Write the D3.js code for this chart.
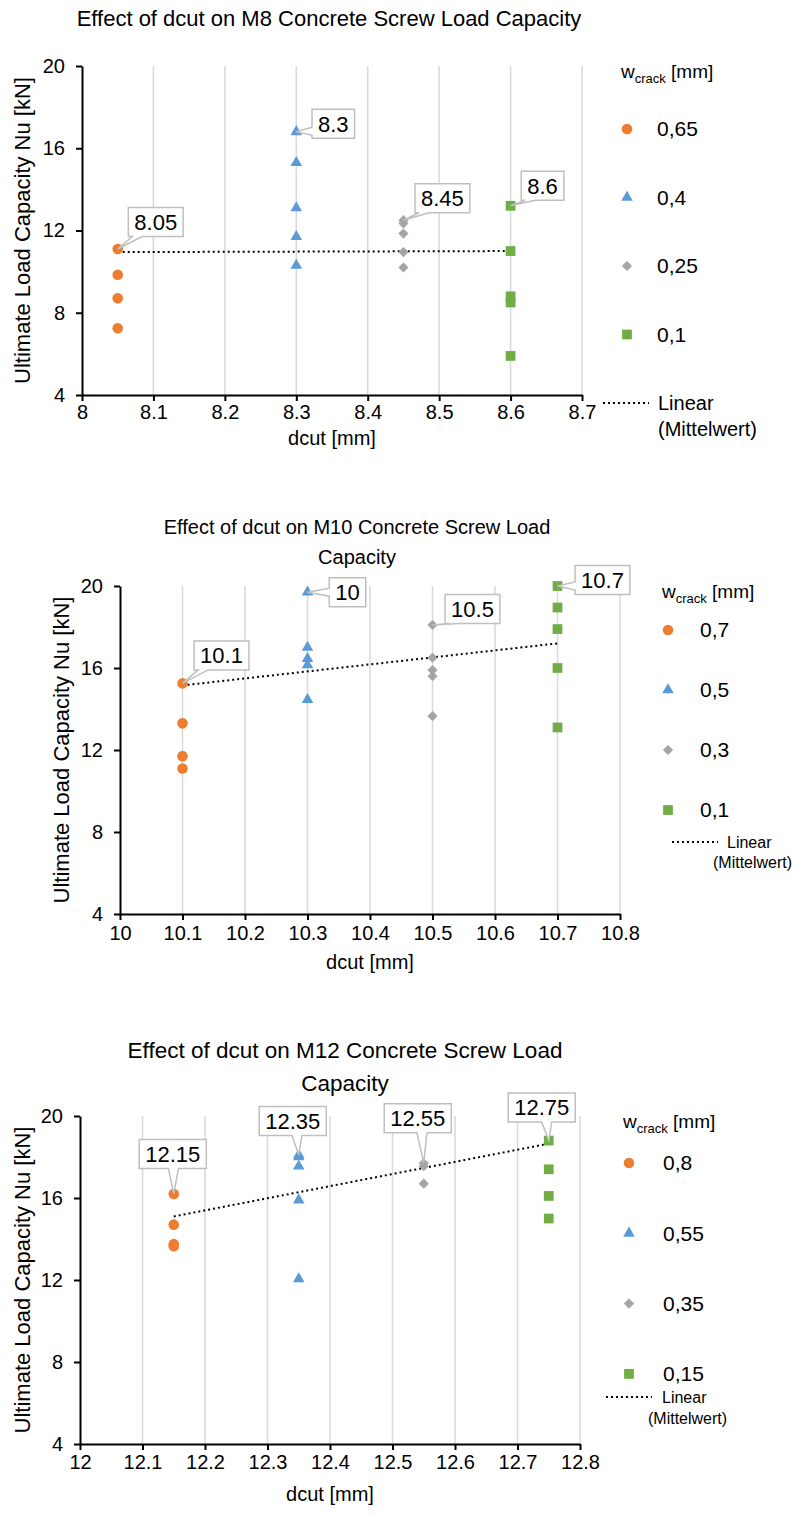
<!DOCTYPE html>
<html>
<head>
<meta charset="utf-8">
<script src="https://cdn.jsdelivr.net/npm/d3@7"></script>
<style>
  body { margin: 0; background: #fff; }
  text { font-family: "Liberation Sans", Arial, sans-serif; fill: #000; }
</style>
</head>
<body>
<div class="charts"></div>
<script>
// shared values
const yTicks = [4, 8, 12, 16, 20]
const seriesColours = ["#ed7d31", "#5b9bd5", "#a5a5a5", "#70ad47"]

// M8
const m8Dcut = [8.05, 8.3, 8.45, 8.6]
const m8Crack = ["0,65", "0,4", "0,25", "0,1"]
const m8Loads = [
  [11.1, 9.85, 8.7, 7.25],
  [16.8, 15.3, 13.1, 11.7, 10.3],
  [12.5, 12.35, 11.85, 10.95, 10.2],
  [13.2, 11.0, 8.8, 8.5, 5.9]
]
const m8Trend = [10.95, 11.0]
const m8XTicks = [8, 8.1, 8.2, 8.3, 8.4, 8.5, 8.6, 8.7]

// M10
const m10Dcut = [10.1, 10.3, 10.5, 10.7]
const m10Labels = ["10.1", "10", "10.5", "10.7"]
const m10Crack = ["0,7", "0,5", "0,3", "0,1"]
const m10Loads = [
  [15.25, 13.3, 11.7, 11.1],
  [19.7, 17.0, 16.45, 16.15, 14.45],
  [18.1, 16.5, 15.9, 15.6, 13.65],
  [20.0, 18.95, 17.9, 16.0, 13.1]
]
const m10Trend = [15.15, 17.2]
const m10XTicks = [10, 10.1, 10.2, 10.3, 10.4, 10.5, 10.6, 10.7, 10.8]

// M12
const m12Dcut = [12.15, 12.35, 12.55, 12.75]
const m12Crack = ["0,8", "0,55", "0,35", "0,15"]
const m12Loads = [
  [16.2, 14.7, 13.75, 13.65],
  [18.1, 18.0, 17.55, 15.9, 12.05],
  [17.7, 17.55, 16.7],
  [18.8, 17.4, 16.1, 15.0]
]
const m12Trend = [15.1, 18.65]
const m12XTicks = [12, 12.1, 12.2, 12.3, 12.4, 12.5, 12.6, 12.7, 12.8]

const svg = d3.select(".charts").append("svg").attr("width", 792).attr("height", 1515)

// marker shapes: circle, triangle, diamond, square
const markerShapes = [
  d3.symbol().type(d3.symbolCircle).size(88),
  d3.symbol().type(d3.symbolTriangle).size(58),
  d3.symbol().type(d3.symbolSquare).size(52),
  d3.symbol().type(d3.symbolSquare).size(95)
]
function marker(g, i, x, y) {
  g.append("path").attr("d", markerShapes[i]())
   .attr("transform", `translate(${x},${y})` + (i == 2 ? " rotate(45)" : ""))
   .attr("fill", seriesColours[i])
}

// box with a wedge pointing at (px,py)
function callout(g, px, py, cx, cy, label) {
  const c = g.append("g")
  const t = c.append("text").attr("x", cx).attr("y", cy).attr("dy", "0.35em")
             .attr("text-anchor", "middle").style("font-size", "22px").text(label)
  const w = t.node().getComputedTextLength() + 12, h = 29
  const x0 = cx - w/2, x1 = cx + w/2, y0 = cy - h/2, y1 = cy + h/2
  const clamp = (v, a, b) => Math.max(a, Math.min(b, v))
  let d
  if (py > y1) {
    const bx = clamp(px + (cx - px) * 0.3, x0 + 9, x1 - 9)
    d = `M${x0},${y0}H${x1}V${y1}H${bx+5}L${px},${py}L${bx-5},${y1}H${x0}Z`
  } else if (py < y0) {
    const bx = clamp(px, x0 + 9, x1 - 9)
    d = `M${x0},${y0}H${bx-5}L${px},${py}L${bx+5},${y0}H${x1}V${y1}H${x0}Z`
  } else if (px < x0) {
    const by = clamp(py, y0 + 7, y1 - 7)
    d = `M${x0},${y0}H${x1}V${y1}H${x0}V${by+4}L${px},${py}L${x0},${by-4}Z`
  } else {
    const by = clamp(py, y0 + 7, y1 - 7)
    d = `M${x0},${y0}H${x1}V${by-4}L${px},${py}L${x1},${by+4}V${y1}H${x0}Z`
  }
  c.insert("path", "text").attr("d", d).attr("fill", "#fff")
   .attr("stroke", "#bfbfbf").attr("stroke-width", 1.5)
}

function drawChart(cfg) {
  const x = d3.scaleLinear().domain(d3.extent(cfg.xTicks)).range([cfg.left, cfg.right])
  const y = d3.scaleLinear().domain([4, 20]).range([cfg.bottom, cfg.top])
  const g = svg.append("g")

  // title
  g.selectAll(".title").data(cfg.title).enter().append("text").attr("class", "title")
   .attr("x", cfg.titleX).attr("y", (d, i) => cfg.titleY + i * cfg.titleGap)
   .attr("text-anchor", "middle").style("font-size", cfg.titleSize + "px").text(d => d)

  // vertical gridlines
  g.selectAll(".grid").data(cfg.xTicks.slice(1)).enter().append("line").attr("class", "grid")
   .attr("x1", d => x(d)).attr("x2", d => x(d)).attr("y1", cfg.top).attr("y2", cfg.bottom)
   .attr("stroke", "#d9d9d9").attr("stroke-width", 1.5)

  // axes
  const xAxis = g.append("g").attr("transform", `translate(0,${cfg.bottom})`)
    .call(d3.axisBottom(x).tickValues(cfg.xTicks).tickSize(6).tickSizeOuter(0).tickPadding(cfg.xPad)
      .tickFormat(d => String(+d.toFixed(2))))
  const yAxis = g.append("g").attr("transform", `translate(${cfg.left},0)`)
    .call(d3.axisLeft(y).tickValues(yTicks).tickSize(6).tickSizeOuter(0).tickPadding(11))
  for (const a of [xAxis, yAxis]) {
    a.select(".domain").attr("stroke", "#000").attr("stroke-width", 2)
    a.selectAll(".tick line").attr("stroke", "#000").attr("stroke-width", 2)
    a.selectAll(".tick text").attr("fill", "#000").style("font-size", "20px")
     .style("font-family", "'Liberation Sans', Arial, sans-serif")
  }

  // axis titles
  g.append("text").attr("x", (cfg.left + cfg.right) / 2).attr("y", cfg.bottom + cfg.xTitleGap)
   .attr("text-anchor", "middle").style("font-size", "20px").text("dcut [mm]")
  g.append("text").attr("transform", `translate(${cfg.yLabelX},${(cfg.top + cfg.bottom) / 2}) rotate(-90)`)
   .attr("dy", "0.35em").attr("text-anchor", "middle").style("font-size", "22px")
   .text("Ultimate Load Capacity Nu [kN]")

  // trendline
  const first = cfg.dcut[0], last = cfg.dcut[cfg.dcut.length - 1]
  g.append("line").attr("x1", x(first)).attr("y1", y(cfg.trend[0]))
   .attr("x2", x(last)).attr("y2", y(cfg.trend[1]))
   .attr("stroke", "#000").attr("stroke-width", 2).attr("stroke-dasharray", "2,3")

  // points
  cfg.loads.forEach((vals, i) => {
    vals.forEach(v => marker(g, i, x(cfg.dcut[i]), y(v)))
  })

  // callouts on the top point of each series
  cfg.loads.forEach((vals, i) => {
    const px = x(cfg.dcut[i]), py = y(d3.max(vals))
    const o = cfg.callouts[i]
    callout(g, px, py, px + o[0], py + o[1], cfg.labels ? cfg.labels[i] : String(cfg.dcut[i]))
  })

  // legend
  const L = cfg.legend
  const head = g.append("text").attr("x", L.x).attr("y", L.headY).style("font-size", "19px")
  head.append("tspan").text("w")
  head.append("tspan").attr("dy", 5).style("font-size", "13px").text("crack")
  head.append("tspan").attr("dy", -5).text(" [mm]")
  cfg.crack.forEach((c, i) => {
    const ry = L.rowY + i * L.rowStep
    marker(g, i, L.x + 6, ry)
    g.append("text").attr("x", L.textX).attr("y", ry).attr("dy", "0.35em")
     .style("font-size", "21px").text(c)
  })
  g.append("line").attr("x1", L.lineX).attr("x2", L.lineX + L.lineLen).attr("y1", L.linY).attr("y2", L.linY)
   .attr("stroke", "#000").attr("stroke-width", 2).attr("stroke-dasharray", "2,3")
  g.append("text").attr("x", L.linearX).attr("y", L.linY).attr("dy", "0.35em")
   .style("font-size", L.linSize + "px").text("Linear")
  g.append("text").attr("x", L.mittelX).attr("y", L.linY + L.linGap).attr("dy", "0.35em")
   .style("font-size", L.linSize + "px").text("(Mittelwert)")
}

drawChart({
  title: ["Effect of dcut on M8 Concrete Screw Load Capacity"], titleX: 329, titleY: 26, titleSize: 22, titleGap: 0,
  left: 82, right: 582, top: 66, bottom: 395, yLabelX: 22, xPad: 4, xTitleGap: 50,
  xTicks: m8XTicks, dcut: m8Dcut, loads: m8Loads, crack: m8Crack, trend: m8Trend,
  callouts: [[38, -27], [37, -8], [39, -22], [32, -20]],
  legend: { x: 621, headY: 78, textX: 657, rowY: 129, rowStep: 68.5,
            lineX: 603, lineLen: 46, linY: 403, linGap: 26, linSize: 20, linearX: 658, mittelX: 658 }
})

drawChart({
  title: ["Effect of dcut on M10 Concrete Screw Load", "Capacity"], titleX: 357, titleY: 534, titleSize: 20, titleGap: 30,
  left: 120, right: 620, top: 586, bottom: 914, yLabelX: 61, xPad: 6, xTitleGap: 55,
  xTicks: m10XTicks, dcut: m10Dcut, loads: m10Loads, crack: m10Crack, trend: m10Trend, labels: m10Labels,
  callouts: [[39, -28], [40, 0], [40, -16], [45, -6]],
  legend: { x: 662, headY: 598, textX: 700, rowY: 630, rowStep: 60,
            lineX: 672, lineLen: 46, linY: 842, linGap: 20, linSize: 16, linearX: 727, mittelX: 713 }
})

drawChart({
  title: ["Effect of dcut on M12 Concrete Screw Load", "Capacity"], titleX: 345, titleY: 1058, titleSize: 22.5, titleGap: 33,
  left: 80, right: 580, top: 1116, bottom: 1444, yLabelX: 22, xPad: 5, xTitleGap: 57,
  xTicks: m12XTicks, dcut: m12Dcut, loads: m12Loads, crack: m12Crack, trend: m12Trend,
  callouts: [[-1, -40], [-6, -34], [-6, -45], [-7, -33]],
  legend: { x: 623, headY: 1128, textX: 663, rowY: 1163, rowStep: 70.3,
            lineX: 606, lineLen: 46, linY: 1397, linGap: 21, linSize: 16, linearX: 662, mittelX: 648 }
})
</script>
</body>
</html>
